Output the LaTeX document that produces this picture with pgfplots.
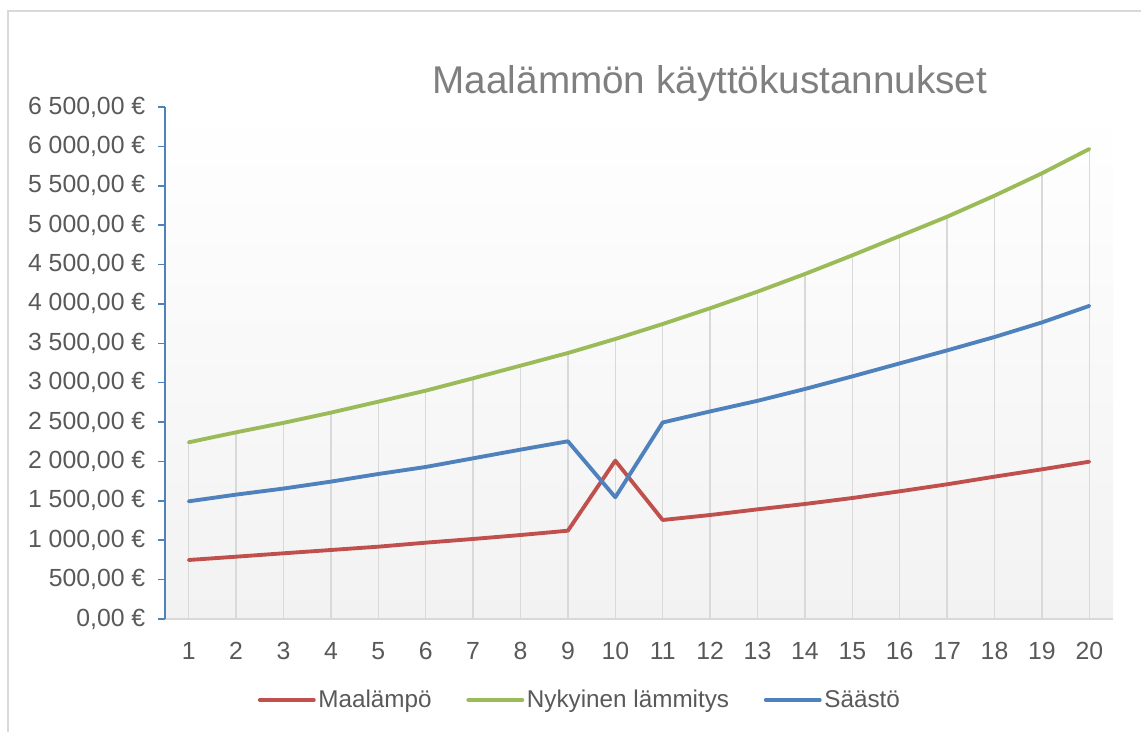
\documentclass[border=0pt]{standalone}
\usepackage{pgfplots}
\pgfplotsset{compat=1.18}
\usepackage{pgfplotstable}
\usepackage{fontspec}
\setmainfont{Liberation Sans}
\definecolor{cRed}{HTML}{C0504D}
\definecolor{cGreen}{HTML}{9BBB59}
\definecolor{cBlue}{HTML}{4F81BD}
\definecolor{cGrid}{HTML}{D9D9D9}
\definecolor{cText}{HTML}{595959}
\definecolor{cTitle}{HTML}{7F7F7F}
\definecolor{cBot}{HTML}{F2F2F2}

\pgfplotstableread{
k red green blue
1 749 2243 1494
2 791 2370 1579
3 834 2490 1656
4 876 2620 1744
5 918 2759 1841
6 969 2899 1930
7 1016 3056 2040
8 1066 3216 2150
9 1121 3377 2256
10 2010 3555 1545
11 1257 3745 2495
12 1320 3945 2635
13 1392 4156 2770
14 1460 4380 2920
15 1536 4617 3080
16 1621 4862 3245
17 1710 5107 3410
18 1807 5374 3580
19 1900 5658 3765
20 1997 5967 3975
}\data

\begin{document}
\begin{tikzpicture}[x=0.75pt,y=0.75pt]
\path[use as bounding box] (0,0) rectangle (1141,731);
\draw[cGrid, line width=1.1pt] (8,-10) -- (8,720) -- (1160,720);
\begin{axis}[
  at={(123.75pt,84pt)}, anchor=south west,
  width=711pt, height=384pt, scale only axis,
  xmin=0.5, xmax=20.5, ymin=0, ymax=6500,
  axis x line=bottom, axis y line=left,
  x axis line style={draw=cGrid, line width=1.1pt, -},
  y axis line style={draw=cBlue, line width=1.1pt, -},
  axis background/.style={shade, top color=white, bottom color=cBot},
  xtick={1,...,20},
  xticklabels={1,2,3,4,5,6,7,8,9,10,11,12,13,14,15,16,17,18,19,20},
  xtick style={draw=none},
  ytick={0,500,...,6500},
  yticklabels={{0,00~€},{500,00~€},{1~000,00~€},{1~500,00~€},{2~000,00~€},{2~500,00~€},{3~000,00~€},{3~500,00~€},{4~000,00~€},{4~500,00~€},{5~000,00~€},{5~500,00~€},{6~000,00~€},{6~500,00~€}},
  ytick style={draw=cBlue, line width=1.1pt},
  tick align=outside, major tick length=5.25pt,
  ticklabel style={font=\fontsize{18.6}{20}\selectfont, text=cText},
  xticklabel style={anchor=north, yshift=-8pt, text height=13.3pt, text depth=0pt},
  yticklabel style={xshift=-6pt},
  legend style={draw=none, fill=none, at={(0.438,-0.158)}, anchor=center,
    font=\fontsize{18.2}{20}\selectfont, text=cText,
    /tikz/every even column/.append style={column sep=24pt},
    nodes={inner sep=2pt}},
  legend columns=3,
  legend image code/.code={\draw[#1, line width=2.9pt] (0,0) -- (40.5pt,0);},
  clip=false,
]
\addplot[ycomb, draw=cGrid, line width=1.1pt, forget plot] table[x=k,y=green] {\data};
\addplot[cRed, line width=2.9pt, line join=round, line cap=round] table[x=k,y=red] {\data};
\addlegendentry{Maalämpö}
\addplot[cGreen, line width=2.9pt, line join=round, line cap=round] table[x=k,y=green] {\data};
\addlegendentry{Nykyinen lämmitys}
\addplot[cBlue, line width=2.9pt, line join=round, line cap=round] table[x=k,y=blue] {\data};
\addlegendentry{Säästö}
\end{axis}
\node[anchor=base, font=\fontsize{29}{32}\selectfont, text=cTitle, inner sep=0pt] at (710,637) {Maalämmön käyttökustannukset};
\end{tikzpicture}
\end{document}
